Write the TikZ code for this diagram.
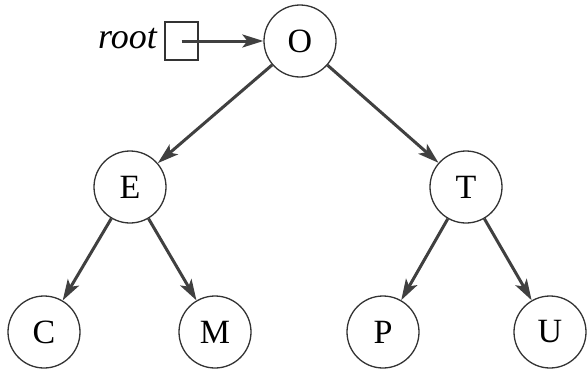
\documentclass[tikz,border=0pt]{standalone}
\usepackage{fontspec}
\setmainfont{Liberation Serif}
\usetikzlibrary{arrows.meta,positioning}
\begin{document}
\begin{tikzpicture}[x=1pt,y=-1pt]

\def\LINECOLOR{black!80}
\def\ARROWCOLOR{black!75}
\tikzset{
	key/.style={circle,draw=\LINECOLOR,line width=1.3pt,minimum size=72pt,inner sep=0pt,font=\fontsize{34}{38}\selectfont},
	link/.style={-{Stealth[length=21pt,width=13pt,inset=5pt]},line width=3pt,draw=\ARROWCOLOR},
	pointer/.style={draw=\LINECOLOR,line width=1.3pt,minimum width=33pt,minimum height=38pt,inner sep=0pt},
	ptrname/.style={inner sep=0pt,font=\fontsize{36}{40}\selectfont\itshape}
}
	\useasboundingbox (0,0) rectangle (588,372);
	% the tree
	\node[key] (O) at (300,41) {O};
	\node[key] (E) at (130,187) {E};
	\node[key] (T) at (466,187) {T};
	\node[key] (C) at (44,332) {C};
	\node[key] (M) at (215,332) {M};
	\node[key] (P) at (383,332) {P};
	\node[key] (U) at (550,332) {U};
	% root pointer
	\node[pointer] (rootbox) at (181.5,41) {};
	\node[ptrname,anchor=base east] (rootname) at (157,48) {root};
	\draw[link] (rootbox.center) -- (O);
	% edges
	\draw[link] (O) -- (E);
	\draw[link] (O) -- (T);
	\draw[link] (E) -- (C);
	\draw[link] (E) -- (M);
	\draw[link] (T) -- (P);
	\draw[link] (T) -- (U);

\end{tikzpicture}
\end{document}
